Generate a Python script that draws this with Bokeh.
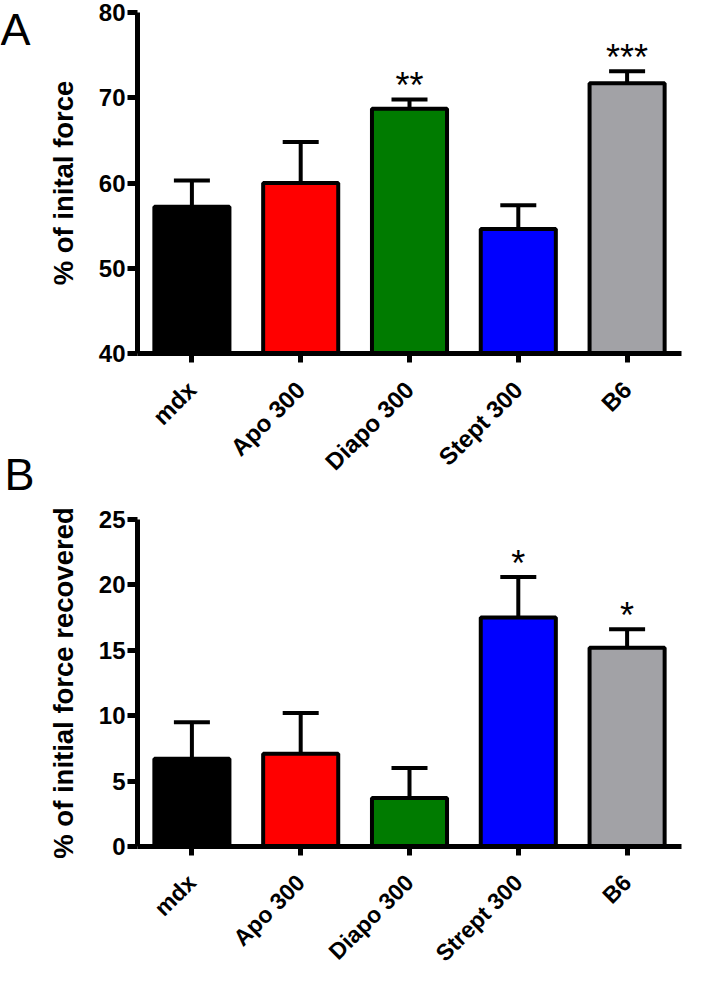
import math
from bokeh.plotting import figure
from bokeh.models import (ColumnDataSource, FactorRange, FixedTicker, Whisker,
                          TeeHead, Label, Range1d)
from bokeh.layouts import column, row
from bokeh.embed import file_html
from bokeh.resources import INLINE
from bokeh.core.properties import value

# ---------------- data ----------------
cats_a = ["mdx", "Apo 300", "Diapo 300", "Stept 300", "B6"]
mean_a = [57.2, 60.0, 68.7, 54.6, 71.7]
sem_a = [3.1, 4.8, 1.1, 2.8, 1.4]
sig_a = ["", "", "**", "", "***"]
ticks_a = [40, 50, 60, 70, 80]

cats_b = ["mdx", "Apo 300", "Diapo 300", "Strept 300", "B6"]
mean_b = [6.7, 7.1, 3.7, 17.5, 15.2]
sem_b = [2.8, 3.1, 2.3, 3.1, 1.4]
sig_b = ["", "", "", "*", "*"]
ticks_b = [0, 5, 10, 15, 20, 25]

colors = ["#000000", "#ff0000", "#007b00", "#0000ff", "#a2a2a6"]

FONT = "Liberation Sans"

H_A, H_B, W_LET = 487, 491, 40


def panel(cats, mean, sem, sig, ticks, ylo, yhi, ylabel,
          height, b_left, b_right, b_top, b_bottom, xlab_size):
    src = ColumnDataSource(dict(
        x=cats, top=mean, bottom=[ylo] * len(cats),
        upper=[m + s for m, s in zip(mean, sem)],
        color=colors, sig=sig))
    p = figure(x_range=FactorRange(factors=cats, range_padding=0),
               y_range=(ylo, yhi), width=690 - W_LET, height=height,
               output_backend="svg", toolbar_location=None,
               min_border_left=b_left, min_border_right=b_right,
               min_border_top=b_top, min_border_bottom=b_bottom)
    p.outline_line_color = None
    p.xgrid.visible = False
    p.ygrid.visible = False

    p.vbar(x="x", top="top", bottom="bottom", width=0.69, source=src,
           fill_color="color", line_color="black", line_width=4)

    wk = Whisker(base="x", upper="upper", lower="top", source=src,
                 dimension="height", line_color="black", line_width=4,
                 upper_head=TeeHead(size=36, line_color="black", line_width=4),
                 lower_head=None, level="annotation")
    p.add_layout(wk)

    p.text(x="x", y="upper", text="sig", source=src,
           text_font=value(FONT), text_font_size="36px",
           text_align="center", text_baseline="alphabetic",
           y_offset=-14, text_color="black")

    # axes
    p.yaxis.ticker = FixedTicker(ticks=ticks)
    p.yaxis.minor_tick_line_color = None
    for ax in (p.xaxis[0], p.yaxis[0]):
        ax.axis_line_width = 5
        ax.axis_line_color = "black"
        ax.major_tick_line_width = 5
        ax.major_tick_line_color = "black"
        ax.major_tick_in = 0
        ax.major_label_text_font = FONT
        ax.major_label_text_font_style = "bold"
        ax.major_label_text_color = "black"
    p.yaxis.major_tick_out = 10
    p.yaxis.major_label_standoff = 2
    p.yaxis.major_label_text_font_size = "24px"
    p.xaxis.major_tick_out = 9
    p.xaxis.major_label_standoff = 23
    p.xaxis.major_label_text_font_size = xlab_size
    p.xaxis.major_label_orientation = math.pi / 4

    p.yaxis.axis_label = ylabel
    p.yaxis.axis_label_text_font = FONT
    p.yaxis.axis_label_text_font_style = "bold"
    p.yaxis.axis_label_text_font_size = "27.5px"
    p.yaxis.axis_label_text_color = "black"
    p.yaxis.axis_label_standoff = 17
    return p


pa = panel(cats_a, mean_a, sem_a, sig_a, ticks_a, 40, 80,
           "% of inital force", H_A, 95, 9, 12, 133, "24px")
pb = panel(cats_b, mean_b, sem_b, sig_b, ticks_b, 0, 25,
           "% of initial force recovered", H_B, 97, 1, 32, 124, "23px")

# narrow strip on the left that carries the panel letters
letters = figure(width=W_LET, height=H_A + H_B,
                 x_range=Range1d(0, W_LET), y_range=Range1d(H_A + H_B, 0),
                 x_axis_type=None, y_axis_type=None, min_border=0,
                 output_backend="svg", toolbar_location=None)
letters.outline_line_color = None
letters.grid.visible = False
letters.add_layout(Label(x=0, y=29, text="A", text_font=FONT,
                         text_font_size="45px", text_color="black",
                         text_baseline="alphabetic"))
letters.add_layout(Label(x=4, y=474, text="B", text_font=FONT,
                         text_font_size="45px", text_color="black",
                         text_baseline="alphabetic"))

layout = row(letters, column(pa, pb, spacing=0), spacing=0)
open("out.html", "w").write(file_html(layout, INLINE))
